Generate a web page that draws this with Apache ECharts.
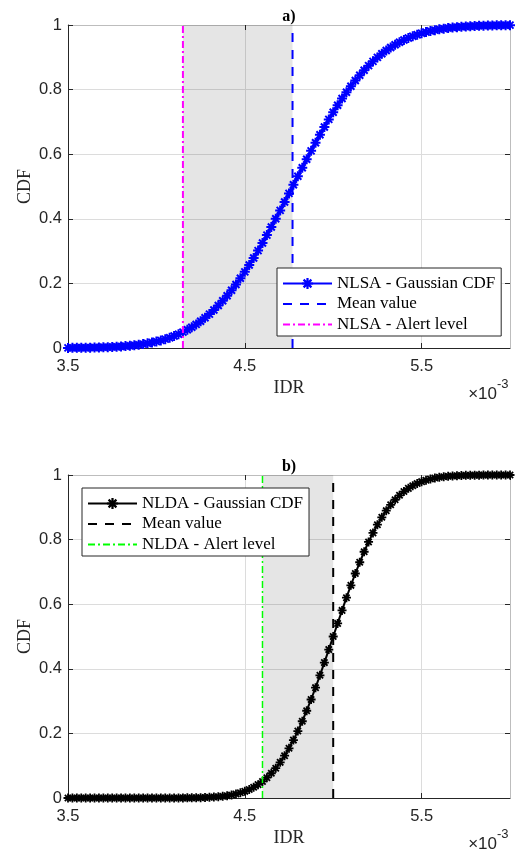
<!DOCTYPE html>
<html>
<head>
<meta charset="utf-8">
<script src="https://cdn.jsdelivr.net/npm/echarts@6/dist/echarts.min.js"></script>
<style>
  html, body { margin: 0; padding: 0; background: #fff; }
  #chart { width: 516px; height: 851px; }
</style>
</head>
<body>
<div id="chart"></div>
<script>
// IDR sample points (x 10^-3)
const idr = [
  3.500, 3.525, 3.550, 3.575, 3.600, 3.625, 3.650, 3.675, 3.700, 3.725,
  3.750, 3.775, 3.800, 3.825, 3.850, 3.875, 3.900, 3.925, 3.950, 3.975,
  4.000, 4.025, 4.050, 4.075, 4.100, 4.125, 4.150, 4.175, 4.200, 4.225,
  4.250, 4.275, 4.300, 4.325, 4.350, 4.375, 4.400, 4.425, 4.450, 4.475,
  4.500, 4.525, 4.550, 4.575, 4.600, 4.625, 4.650, 4.675, 4.700, 4.725,
  4.750, 4.775, 4.800, 4.825, 4.850, 4.875, 4.900, 4.925, 4.950, 4.975,
  5.000, 5.025, 5.050, 5.075, 5.100, 5.125, 5.150, 5.175, 5.200, 5.225,
  5.250, 5.275, 5.300, 5.325, 5.350, 5.375, 5.400, 5.425, 5.450, 5.475,
  5.500, 5.525, 5.550, 5.575, 5.600, 5.625, 5.650, 5.675, 5.700, 5.725,
  5.750, 5.775, 5.800, 5.825, 5.850, 5.875, 5.900, 5.925, 5.950, 5.975,
  6.000
];

// NLSA Gaussian CDF
const cdfNLSA = [
  0.0003, 0.0005, 0.0006, 0.0007, 0.0009, 0.0011, 0.0014, 0.0018, 0.0022, 0.0027,
  0.0033, 0.0040, 0.0048, 0.0059, 0.0071, 0.0085, 0.0102, 0.0121, 0.0144, 0.0170,
  0.0200, 0.0235, 0.0274, 0.0319, 0.0370, 0.0427, 0.0492, 0.0563, 0.0643, 0.0731,
  0.0828, 0.0934, 0.1050, 0.1177, 0.1314, 0.1461, 0.1619, 0.1788, 0.1967, 0.2157,
  0.2358, 0.2568, 0.2787, 0.3015, 0.3252, 0.3495, 0.3745, 0.4000, 0.4260, 0.4522,
  0.4787, 0.5053, 0.5319, 0.5583, 0.5845, 0.6103, 0.6357, 0.6603, 0.6844, 0.7077,
  0.7301, 0.7517, 0.7724, 0.7920, 0.8106, 0.8281, 0.8445, 0.8599, 0.8742, 0.8875,
  0.8997, 0.9110, 0.9212, 0.9306, 0.9390, 0.9467, 0.9535, 0.9597, 0.9651, 0.9699,
  0.9742, 0.9780, 0.9812, 0.9841, 0.9866, 0.9887, 0.9905, 0.9921, 0.9934, 0.9946,
  0.9955, 0.9963, 0.9970, 0.9975, 0.9980, 0.9984, 0.9987, 0.9990, 0.9992, 0.9993,
  0.9995
];

// NLDA Gaussian CDF
const cdfNLDA = [
  0.0000, 0.0000, 0.0000, 0.0000, 0.0000, 0.0000, 0.0000, 0.0000, 0.0000, 0.0000,
  0.0000, 0.0000, 0.0000, 0.0000, 0.0000, 0.0000, 0.0000, 0.0000, 0.0000, 0.0000,
  0.0000, 0.0000, 0.0001, 0.0001, 0.0001, 0.0002, 0.0003, 0.0004, 0.0005, 0.0008,
  0.0011, 0.0015, 0.0021, 0.0029, 0.0040, 0.0054, 0.0072, 0.0095, 0.0124, 0.0161,
  0.0206, 0.0263, 0.0331, 0.0414, 0.0512, 0.0629, 0.0766, 0.0923, 0.1104, 0.1309,
  0.1538, 0.1793, 0.2072, 0.2376, 0.2702, 0.3050, 0.3416, 0.3798, 0.4192, 0.4594,
  0.5000, 0.5406, 0.5808, 0.6202, 0.6584, 0.6950, 0.7298, 0.7624, 0.7928, 0.8207,
  0.8462, 0.8691, 0.8896, 0.9077, 0.9234, 0.9371, 0.9488, 0.9586, 0.9669, 0.9737,
  0.9794, 0.9839, 0.9876, 0.9905, 0.9928, 0.9946, 0.9960, 0.9971, 0.9979, 0.9985,
  0.9989, 0.9992, 0.9995, 0.9996, 0.9997, 0.9998, 0.9999, 0.9999, 0.9999, 1.0000,
  1.0000
];

// Mean value and alert level of each indicator (x 10^-3)
const meanNLSA = 4.77;
const alertNLSA = 4.15;
const meanNLDA = 5.00;
const alertNLDA = 4.60;

// Axis ranges and ticks
const xRange = [3.5, 6.0];
const xStep = 1;
const yRange = [0, 1];
const yStep = 0.2;

// Legend entries
const legendNLSA = ['NLSA - Gaussian CDF', 'Mean value', 'NLSA - Alert level'];
const legendNLDA = ['NLDA - Gaussian CDF', 'Mean value ', 'NLDA - Alert level'];
const panelTitles = ['a)', 'b)'];

const AXIS = '#262626';
const GRIDLINE = '#dcdcdc';
const BOX = '#bdbdbd';
const SANS = '"Liberation Sans", Arial, sans-serif';
const SERIF = '"Liberation Serif", "Times New Roman", serif';

// asterisk marker built from four filled bars
const ASTERISK = 'path://M4 0L6 0L6 10L4 10Z' +
  'M0 4L10 4L10 6L0 6Z' +
  'M0.79 2.21L2.21 0.79L9.21 7.79L7.79 9.21Z' +
  'M7.79 0.79L9.21 2.21L2.21 9.21L0.79 7.79Z';

const GRID_LEFT = 68;
const GRID_W = 442;
const GRID_H = 323;
const panelTops = [25, 475];

function pairs(xs, ys) {
  return xs.map((x, i) => [x, ys[i]]);
}

const grids = [], xAxes = [], yAxes = [], series = [], legends = [], graphics = [];

function addPanel(p, cfg) {
  const top = panelTops[p];
  grids.push({ left: GRID_LEFT, top: top, width: GRID_W, height: GRID_H, containLabel: false });

  const xb = xAxes.length;
  xAxes.push({
    type: 'value', gridIndex: p, position: 'bottom',
    min: xRange[0], max: xRange[1], interval: xStep,
    axisLine: { show: true, onZero: false, lineStyle: { color: AXIS, width: 1 } },
    axisTick: { show: true, inside: true, length: 5, lineStyle: { color: AXIS } },
    axisLabel: { fontFamily: SANS, fontSize: 16.5, color: AXIS, margin: 10, showMaxLabel: false },
    splitLine: { show: true, lineStyle: { color: GRIDLINE, width: 1 } },
    name: 'IDR', nameLocation: 'middle', nameGap: 31, nameMoveOverlap: false,
    nameTextStyle: { fontFamily: SERIF, fontSize: 18, color: AXIS }
  });
  xAxes.push({
    type: 'value', gridIndex: p, position: 'top',
    min: xRange[0], max: xRange[1], interval: xStep,
    axisLine: { show: true, onZero: false, lineStyle: { color: BOX, width: 1 } },
    axisTick: { show: true, inside: true, length: 5, lineStyle: { color: AXIS } },
    axisLabel: { show: false },
    splitLine: { show: false }
  });

  const yl = yAxes.length;
  yAxes.push({
    type: 'value', gridIndex: p, position: 'left',
    min: yRange[0], max: yRange[1], interval: yStep,
    axisLine: { show: true, onZero: false, lineStyle: { color: AXIS, width: 1 } },
    axisTick: { show: true, inside: true, length: 5, lineStyle: { color: AXIS } },
    axisLabel: { fontFamily: SANS, fontSize: 16.5, color: AXIS, margin: 6 },
    splitLine: { show: true, lineStyle: { color: GRIDLINE, width: 1 } },
    name: 'CDF', nameLocation: 'middle', nameGap: 34, nameMoveOverlap: false,
    nameTextStyle: { fontFamily: SERIF, fontSize: 18, color: AXIS }
  });
  yAxes.push({
    type: 'value', gridIndex: p, position: 'right',
    min: yRange[0], max: yRange[1], interval: yStep,
    axisLine: { show: true, onZero: false, lineStyle: { color: BOX, width: 1 } },
    axisTick: { show: true, inside: true, length: 5, lineStyle: { color: AXIS } },
    axisLabel: { show: false },
    splitLine: { show: false }
  });

  // shaded band between the alert level and the mean value
  series.push({
    type: 'line', xAxisIndex: xb, yAxisIndex: yl, data: [], silent: true, z: 1,
    markArea: {
      silent: true,
      itemStyle: { color: 'rgba(0,0,0,0.1)' },
      data: [[{ xAxis: cfg.alert }, { xAxis: cfg.mean }]]
    }
  });

  series.push({
    name: cfg.names[0], type: 'line', xAxisIndex: xb, yAxisIndex: yl,
    data: pairs(idr, cfg.cdf),
    symbol: ASTERISK, symbolSize: cfg.markerSize, showSymbol: true, clip: false,
    lineStyle: { color: cfg.color, width: cfg.lineWidth },
    itemStyle: { color: cfg.color },
    z: 3
  });

  series.push({
    name: cfg.names[1], type: 'line', xAxisIndex: xb, yAxisIndex: yl,
    data: [[cfg.mean, yRange[0]], [cfg.mean, yRange[1]]],
    symbol: 'none',
    lineStyle: { color: cfg.color, width: 2, type: [9, 8] },
    itemStyle: { color: cfg.color },
    z: 4
  });

  series.push({
    name: cfg.names[2], type: 'line', xAxisIndex: xb, yAxisIndex: yl,
    data: [[cfg.alert, yRange[0]], [cfg.alert, yRange[1]]],
    symbol: 'none',
    lineStyle: { color: cfg.alertColor, width: cfg.alertWidth, type: [7, 3, 2, 3] },
    itemStyle: { color: cfg.alertColor },
    z: 4
  });

  legends.push({
    orient: 'vertical', left: cfg.legendPos[0], top: cfg.legendPos[1],
    data: [
      { name: cfg.names[0], lineStyle: { width: 2 } },
      { name: cfg.names[1], itemStyle: { opacity: 0 } },
      { name: cfg.names[2], itemStyle: { opacity: 0 } }
    ],
    itemWidth: 49, itemHeight: 14, itemGap: 3.5,
    padding: [7, 6, 3, 5],
    borderColor: AXIS, borderWidth: 1, borderRadius: 0,
    backgroundColor: '#ffffff',
    selectedMode: false, z: 10,
    textStyle: { fontFamily: SERIF, fontSize: 17, color: '#000', lineHeight: 14 }
  });

  graphics.push({
    type: 'text', x: GRID_LEFT + GRID_W / 2, y: top - 8, z: 20,
    style: { text: panelTitles[p], font: 'bold 16px ' + SERIF, fill: '#000', align: 'center', verticalAlign: 'middle' }
  });
  graphics.push({
    type: 'text', x: 497, y: top + GRID_H + 55, z: 20,
    style: { text: '\u00d710', font: '17px ' + SANS, fill: AXIS, align: 'right', verticalAlign: 'bottom' }
  });
  graphics.push({
    type: 'text', x: 497, y: top + GRID_H + 30, z: 20,
    style: { text: '-3', font: '13px ' + SANS, fill: AXIS, align: 'left', verticalAlign: 'top' }
  });
}

addPanel(0, {
  cdf: cdfNLSA, mean: meanNLSA, alert: alertNLSA, names: legendNLSA,
  markerSize: 10, lineWidth: 3,
  color: '#0000ff', alertColor: '#ff00ff', alertWidth: 2, legendPos: [277, 268]
});
addPanel(1, {
  cdf: cdfNLDA, mean: meanNLDA, alert: alertNLDA, names: legendNLDA,
  markerSize: 9, lineWidth: 2,
  color: '#000000', alertColor: '#00ff00', alertWidth: 1.5, legendPos: [82, 488]
});

const chart = echarts.init(document.getElementById('chart'), null, { renderer: 'canvas' });
chart.setOption({
  animation: false,
  backgroundColor: '#ffffff',
  grid: grids,
  xAxis: xAxes,
  yAxis: yAxes,
  legend: legends,
  series: series,
  graphic: graphics
});
</script>
</body>
</html>
